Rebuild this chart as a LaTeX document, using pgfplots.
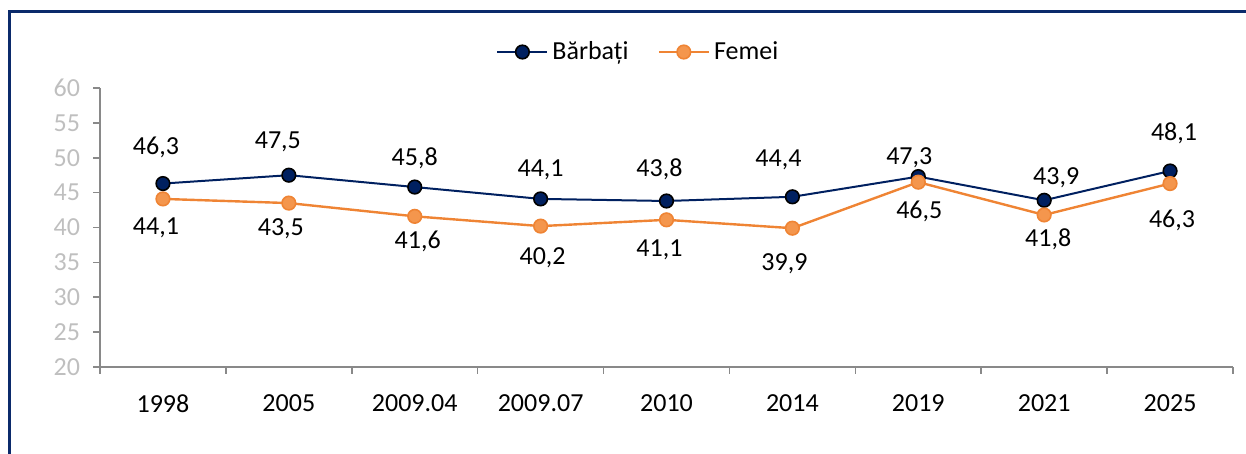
\documentclass[border=0pt]{standalone}
\usepackage{pgfplots}
\pgfplotsset{compat=1.18}
\usepackage{pgfplotstable}
\usepackage{fontspec}
\setmainfont{Carlito}
\definecolor{navy}{HTML}{002060}
\definecolor{orline}{HTML}{EF8434}
\definecolor{orfill}{HTML}{F4964D}
\definecolor{axgray}{HTML}{898989}
\definecolor{lblgray}{HTML}{BFBFBF}
\definecolor{framecol}{HTML}{0B2A6B}

\pgfplotstableread{
x y dx dy
0 46.3 -3.5 18
1 47.5 -5.5 16.5
2 45.8 0 14.5
3 44.1 0 14.5
4 43.8 -3.5 16
5 44.4 -7 18.5
6 47.3 -4.5 9.5
7 43.9 6 11.5
8 48.1 2 19
}\barbati

\pgfplotstableread{
x y dx dy
0 44.1 -3.5 -14.5
1 43.5 -4 -13
2 41.6 1.5 -12.5
3 40.2 1 -16
4 41.1 -3.5 -15
5 39.9 -4 -18
6 46.5 0.5 -14.5
7 41.8 2 -12
8 46.3 1 -18.5
}\femei

\begin{document}
\begin{tikzpicture}[font=\fontsize{13}{15}\selectfont]
\useasboundingbox (0,0) rectangle (623pt,227pt);
\draw[framecol, line width=1.5pt] (4.5pt,0pt) -- (4.5pt,221pt) -- (623pt,221pt);
\begin{axis}[
  at={(50pt,43.5pt)}, anchor=south west,
  scale only axis, width=566.5pt, height=139.5pt,
  xmin=-0.5, xmax=8.5, ymin=20, ymax=60,
  ytick={20,25,...,60},
  xtick={0,...,8},
  xticklabels={1998,2005,2009.04,2009.07,2010,2014,2019,2021,2025},
  minor xtick={-0.5,0.5,...,8.5},
  axis x line*=bottom, axis y line*=left,
  axis line style={draw=axgray, line width=0.75pt, -},
  tick style={draw=axgray, line width=0.75pt},
  major x tick style={draw=none},
  tick align=outside,
  major tick length=3.5pt, minor tick length=3.5pt,
  yticklabel style={text=lblgray, font=\fontsize{13}{15}\selectfont, xshift=-3pt},
  xticklabel style={text=black, font=\fontsize{13}{15}\selectfont, yshift=-7pt},
  /pgf/number format/assume math mode=true,
  clip=false,
  legend columns=2,
  legend style={at={(0.476,1.129)}, anchor=center, draw=none, fill=none,
    font=\fontsize{13}{15}\selectfont,
    /tikz/every even column/.append style={column sep=12.5pt}},
  legend image code/.code={\draw[mark repeat=2,mark phase=2,#1] plot coordinates {(0pt,0pt) (12.5pt,0pt) (25pt,0pt)};},
  every node near coord/.append style={anchor=center, inner sep=0pt, text=black, font=\fontsize{13}{15}\selectfont},
]
\addplot[navy, line width=1pt, mark=*, mark size=3.4pt,
  mark options={fill=navy, draw=black, line width=0.8pt},
  point meta=y,
  visualization depends on={\thisrow{dx}\as\dx},
  visualization depends on={\thisrow{dy}\as\dy},
  nodes near coords={\pgfmathprintnumber[fixed,fixed zerofill,precision=1,use comma]{\pgfplotspointmeta}},
  nodes near coords style={xshift=\dx pt, yshift=\dy pt},
] table[x=x,y=y]{\barbati};
\addlegendentry{Bărbați}
\addplot[orline, line width=1.2pt, mark=*, mark size=3.4pt,
  mark options={fill=orfill, draw=orline, line width=0.8pt},
  point meta=y,
  visualization depends on={\thisrow{dx}\as\dx},
  visualization depends on={\thisrow{dy}\as\dy},
  nodes near coords={\pgfmathprintnumber[fixed,fixed zerofill,precision=1,use comma]{\pgfplotspointmeta}},
  nodes near coords style={xshift=\dx pt, yshift=\dy pt},
] table[x=x,y=y]{\femei};
\addlegendentry{Femei}
\end{axis}
\end{tikzpicture}
\end{document}
